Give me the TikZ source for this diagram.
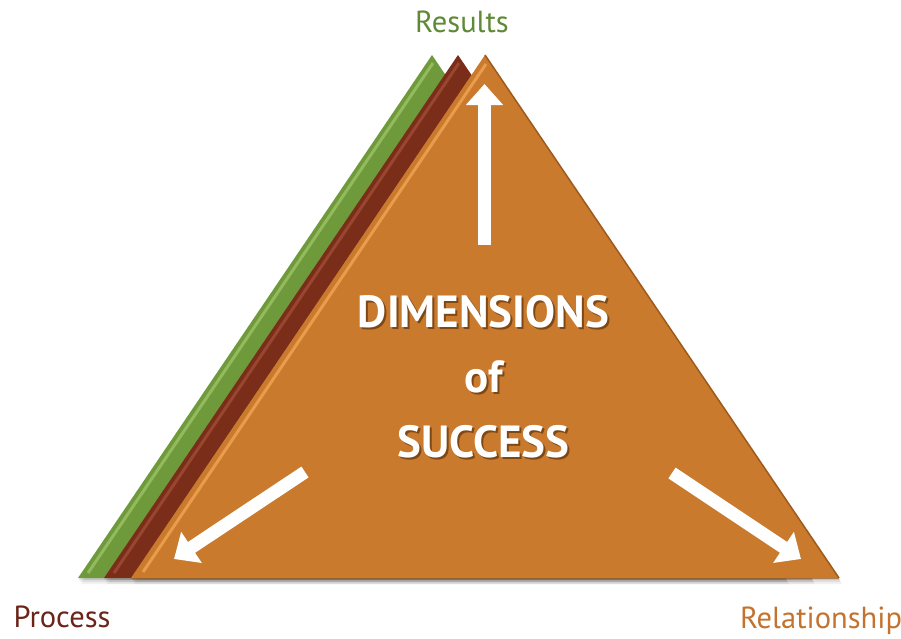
\documentclass[tikz,border=0pt]{standalone}
\usepackage{fontspec}
\setmainfont{PT Sans}
\usetikzlibrary{arrows.meta}
\definecolor{trigreen}{HTML}{6F9A3C}
\definecolor{trigreenhi}{HTML}{9CC266}
\definecolor{tribrown}{HTML}{7A2D18}
\definecolor{tribrownhi}{HTML}{A5523A}
\definecolor{triorange}{HTML}{C97A2C}
\definecolor{triorangehi}{HTML}{EDA04F}
\definecolor{triorangelo}{HTML}{9E5A1C}
\definecolor{txtgreen}{HTML}{5E8A35}
\definecolor{txtbrown}{HTML}{6B2418}
\definecolor{txtorange}{HTML}{C3732F}
\definecolor{txtshadow}{HTML}{7E4716}
\newcommand{\shadowed}[1]{\rlap{\kern2pt\raisebox{-2pt}{\color{txtshadow}#1}}#1}
\tikzset{
  corner/.style={font=\fontsize{30.5}{30.5}\selectfont, anchor=base},
  bigtxt/.style={font=\bfseries\fontsize{45}{45}\selectfont, text=white, anchor=base},
  wharrow/.style={draw=white, line width=13pt, -{Triangle[width=36pt,length=21pt]}},
}
\begin{document}
\begin{tikzpicture}[x=1pt,y=-1pt]
\useasboundingbox (0,0) rectangle (901,638);
% soft drop shadows of the three triangles
\foreach \ax/\lx/\rx in {432/78/786,458/104/812,485/131/839}{
  \foreach \o/\a in {6/0.05,4/0.08,2/0.12}{
    \fill[black,opacity=\a] (\lx+\o/2,578+\o) -- (\ax+\o/2,55+\o) -- (\rx+\o/2,578+\o) -- cycle;
  }
}
% green triangle
\coordinate (ga) at (432,55); \coordinate (gl) at (78,578); \coordinate (gr) at (786,578);
\fill[trigreen] (gl) -- (ga) -- (gr) -- cycle;
\draw[trigreenhi,line width=3pt,opacity=0.8] (88,573) -- (433,63);
% brown triangle
\coordinate (ba) at (458,55); \coordinate (bl) at (104,578); \coordinate (br) at (812,578);
\fill[tribrown] (bl) -- (ba) -- (br) -- cycle;
\draw[tribrownhi,line width=3pt,opacity=0.7] (114,573) -- (459,63);
% orange triangle
\coordinate (oa) at (485,55); \coordinate (ol) at (131,578); \coordinate (or) at (839,578);
\fill[triorange] (ol) -- (oa) -- (or) -- cycle;
\draw[triorangehi,line width=3pt,opacity=0.9] (143,572) -- (486,64);
\draw[triorangelo,line width=1.5pt] (oa) -- (or);
\draw[triorangelo,line width=1pt,opacity=0.6] (ol) -- (or);
% arrows
\coordinate (upS) at (484.5,245); \coordinate (upT) at (484.5,84);
\coordinate (lS) at (305,472); \coordinate (lT) at (174,559);
\coordinate (rS) at (672,473); \coordinate (rT) at (801,559);
\draw[wharrow] (upS) -- (upT);
\draw[wharrow] (lS) -- (lT);
\draw[wharrow] (rS) -- (rT);
% centre text
\node[bigtxt] (t1) at (483.5,327.5) {\shadowed{DIMENSIONS}};
\node[bigtxt] (t2) at (483.5,392.5) {\shadowed{of}};
\node[bigtxt] (t3) at (483.5,457.5) {\shadowed{SUCCESS}};
% corner labels
\node[corner,text=txtgreen] (res) at (462,32) {Results};
\node[corner,text=txtbrown] (proc) at (62,627) {Process};
\node[corner,text=txtorange] (rel) at (821,628) {Relationship};
\end{tikzpicture}
\end{document}
